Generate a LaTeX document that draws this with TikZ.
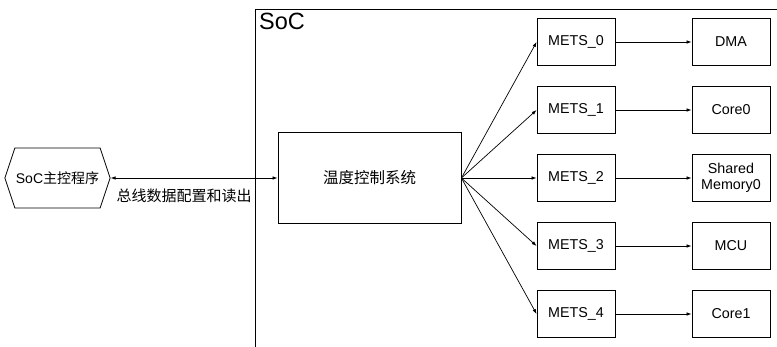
\documentclass[tikz,border=0pt]{standalone}
\usepackage{fontspec}
\setmainfont{Liberation Sans}
\newfontfamily\cjk{Noto Sans CJK SC}
\usetikzlibrary{arrows.meta}
\usetikzlibrary{shapes.symbols}

\tikzset{
    blk/.style={draw, line width=0.8pt, minimum width=78pt, minimum height=47pt, inner sep=1pt, align=center, font=\fontsize{14.3}{16}\selectfont},
    link/.style={line width=0.7pt, -{Latex[length=5pt,width=3.5pt]}}
}

\begin{document}
\begin{tikzpicture}[x=1pt, y=-1pt]
                \useasboundingbox (0,0) rectangle (777,346);
                \clip (0,0) rectangle (777,346);

                \draw[line width=0.8pt] (255,9) rectangle (800,360);
                \node[anchor=north west, inner sep=0pt, font=\fontsize{23.5}{25}\selectfont] (soc) at (259,13) {SoC};

                \node[draw, line width=0.8pt, signal, signal to=west and east, signal pointer angle=143,
                      minimum width=105pt, minimum height=60pt, inner sep=1pt, font=\fontsize{14}{16}\selectfont] (host) at (57.5,178) {SoC{\cjk 主控程序}};
                \node[draw, line width=0.8pt, minimum width=183pt, minimum height=91pt, font=\fontsize{15.5}{17}\selectfont\cjk] (ctrl) at (369.5,178) {温度控制系统};

                \draw[line width=0.7pt, {Latex[length=5pt,width=3.5pt]}-{Latex[length=5pt,width=3.5pt]}] (host.east) -- (ctrl.west)
                    node[pos=0.44, below=7pt, font=\fontsize{15}{17}\selectfont\cjk] (bus) {总线数据配置和读出};

                \foreach \i/\dev in {0/DMA, 1/Core0, 2/{Shared\\Memory0}, 3/MCU, 4/Core1} {
                    \node[blk] (mets\i) at (576,{42+68*\i}) {METS\_\i};
                    \node[blk] (dev\i) at (731,{42+68*\i}) {\dev};
                    \draw[link] (ctrl.east) -- (mets\i.west);
                    \draw[link] (mets\i.east) -- (dev\i.west);
                }
            \end{tikzpicture}
\end{document}
